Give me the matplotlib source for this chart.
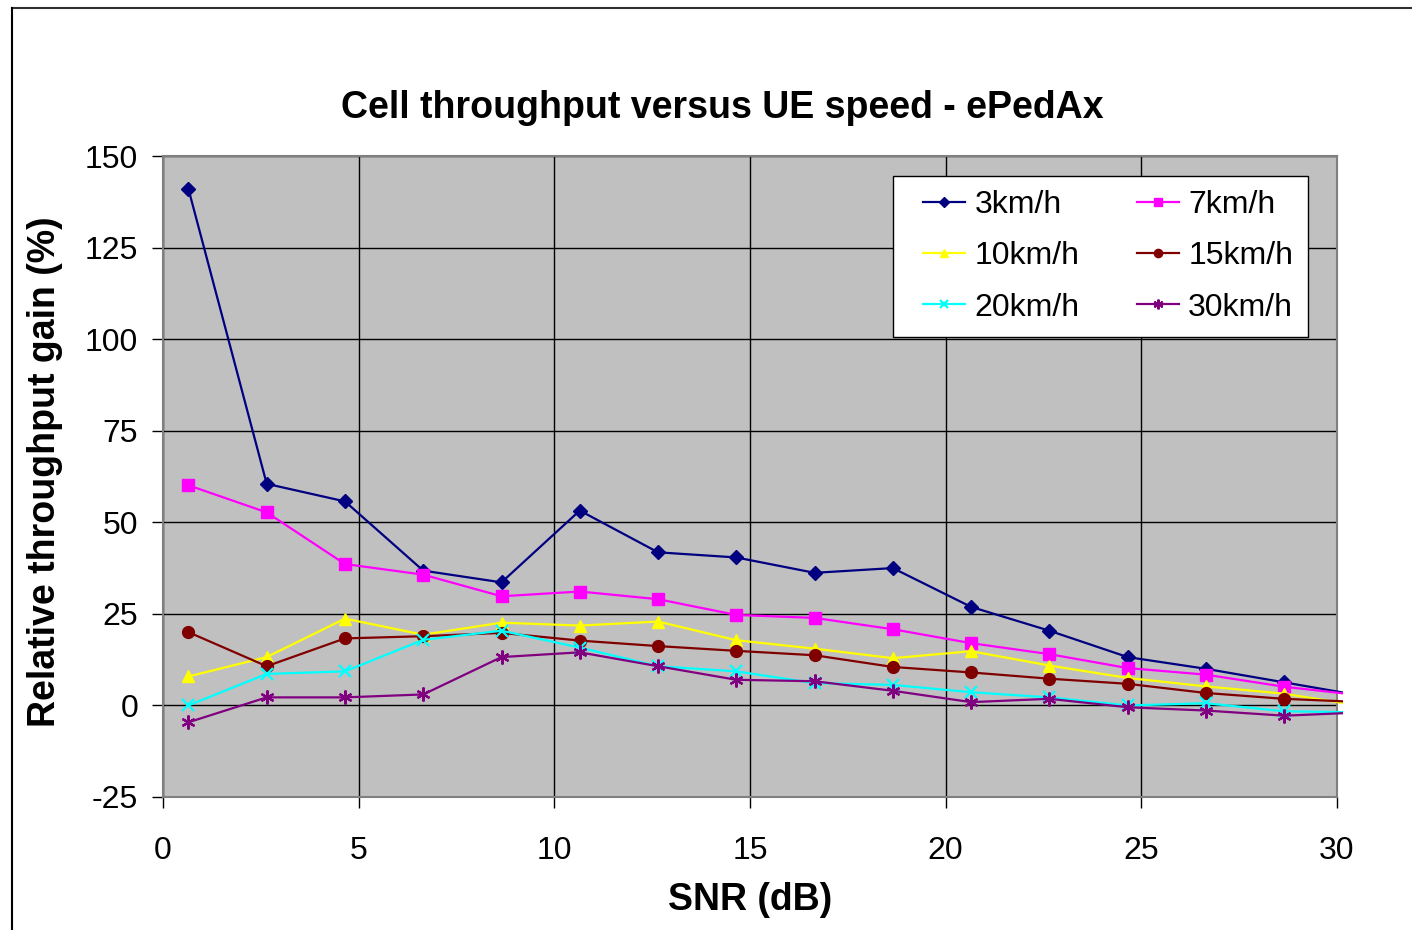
import matplotlib
matplotlib.use('Agg')
import matplotlib.pyplot as plt
from matplotlib.lines import Line2D
from matplotlib.legend_handler import HandlerLine2D
from matplotlib.transforms import Bbox, TransformedBbox

plt.rcParams['font.family'] = ['Liberation Sans', 'DejaVu Sans']
plt.rcParams['axes.unicode_minus'] = False

# SNR sample points (dB); the last one sits just past the axis end and is clipped
snr = [0.65, 2.65, 4.65, 6.65, 8.65, 10.65, 12.65, 14.65,
       16.65, 18.65, 20.65, 22.65, 24.65, 26.65, 28.65, 30.65]

gain_3 = [141.0, 60.5, 55.7, 36.8, 33.6, 53.2, 41.8, 40.4,
          36.2, 37.5, 26.9, 20.4, 13.2, 10.0, 6.3, 2.6]
gain_7 = [60.1, 52.7, 38.6, 35.7, 29.8, 31.1, 29.0, 24.7,
          23.9, 20.8, 17.0, 14.0, 10.2, 8.4, 5.1, 2.7]
gain_10 = [7.9, 13.2, 23.7, 19.3, 22.6, 21.8, 22.9, 17.8,
           15.5, 12.9, 14.8, 10.9, 7.5, 5.2, 3.2, -0.2]
gain_15 = [20.0, 10.7, 18.3, 18.9, 19.8, 17.7, 16.2, 14.9,
           13.7, 10.5, 9.0, 7.3, 5.9, 3.4, 1.8, 0.9]
gain_20 = [0.0, 8.6, 9.3, 17.9, 20.4, 15.8, 10.7, 9.3,
           6.1, 5.6, 3.6, 2.2, 0.0, 0.6, -1.6, -1.9]
gain_30 = [-4.6, 2.2, 2.2, 3.0, 13.2, 14.5, 10.7, 7.0,
           6.6, 4.0, 0.9, 1.8, -0.5, -1.4, -2.8, -1.9]

labels = ['3km/h', '7km/h', '10km/h', '15km/h', '20km/h', '30km/h']
series = [gain_3, gain_7, gain_10, gain_15, gain_20, gain_30]
colors = ['#000080', '#FF00FF', '#FFFF00', '#800000', '#00FFFF', '#800080']
markers = ['D', 's', '^', 'o', 'x', (6, 2, 0)]
msizes = [7, 8, 8.5, 8.5, 9, 10]

fig = plt.figure(figsize=(14.12, 9.3), dpi=100)
ax = fig.add_axes([163 / 1412, 1 - 797 / 930, 1174 / 1412, 641 / 930])
ax.set_facecolor('#C0C0C0')

clip = TransformedBbox(Bbox.from_extents(0, -30, 30.15, 155), ax.transData)
handles = []
for y, lab, c, m, ms in zip(series, labels, colors, markers, msizes):
    ln, = ax.plot(snr, y, color=c, marker=m, markersize=ms, lw=1.6,
                  mew=1.6 if m in ('x', (6, 2, 0)) else 1, mec=c, mfc=c,
                  label=lab, clip_on=True, zorder=3)
    ln.set_clip_box(clip)
    handles.append(ln)

ax.set_xlim(0, 30)
ax.set_ylim(-25, 150)
ax.set_xticks([0, 5, 10, 15, 20, 25, 30])
ax.set_yticks([-25, 0, 25, 50, 75, 100, 125, 150])
ax.grid(True, color='black', lw=1.0, zorder=1)
ax.set_axisbelow(True)
for s in ax.spines.values():
    s.set_color('#808080')
    s.set_linewidth(1.5)
ax.tick_params(direction='out', length=8, width=1, color='black',
               labelsize=23, pad=10)
ax.tick_params(axis='x', pad=20)

ax.set_xlabel('SNR (dB)', fontsize=27, fontweight='bold')
ax.xaxis.set_label_coords(0.5, -(900 - 797) / 641, transform=ax.transAxes)
ax.xaxis.label.set_va('center')
ax.set_ylabel('Relative throughput gain (%)', fontsize=27, fontweight='bold')
ax.yaxis.set_label_coords(-(163 - 45) / 1174, (797 - 472) / 641)
ax.yaxis.label.set_va('center')

fig.text(722 / 1412, 1 - 108 / 930, 'Cell throughput versus UE speed - ePedAx',
         ha='center', va='center', fontsize=27, fontweight='bold')

# legend filled row by row: 3/7, 10/15, 20/30
order = [0, 2, 4, 1, 3, 5]
leg = ax.legend([handles[i] for i in order], [labels[i] for i in order],
                loc='upper left', ncol=2, fontsize=23, frameon=True,
                fancybox=False, framealpha=1, edgecolor='black',
                bbox_to_anchor=(893 / 1412, 1 - 176 / 930),
                bbox_transform=fig.transFigure, borderaxespad=0,
                markerscale=0.7, handlelength=1.8, handletextpad=0.3,
                columnspacing=1.3, labelspacing=0.66, borderpad=0.45,
                handler_map={Line2D: HandlerLine2D(xpad=0.5)})
leg.get_frame().set_linewidth(1.0)
leg.set_zorder(5)

# outer chart border (top and left edges)
fig.add_artist(Line2D([12 / 1412, 1], [1 - 8 / 930, 1 - 8 / 930],
                      transform=fig.transFigure, color='#303030', lw=1.5))
fig.add_artist(Line2D([12 / 1412, 12 / 1412], [0, 1 - 8 / 930],
                      transform=fig.transFigure, color='black', lw=1.5))

fig.savefig('out.png', dpi=100)
